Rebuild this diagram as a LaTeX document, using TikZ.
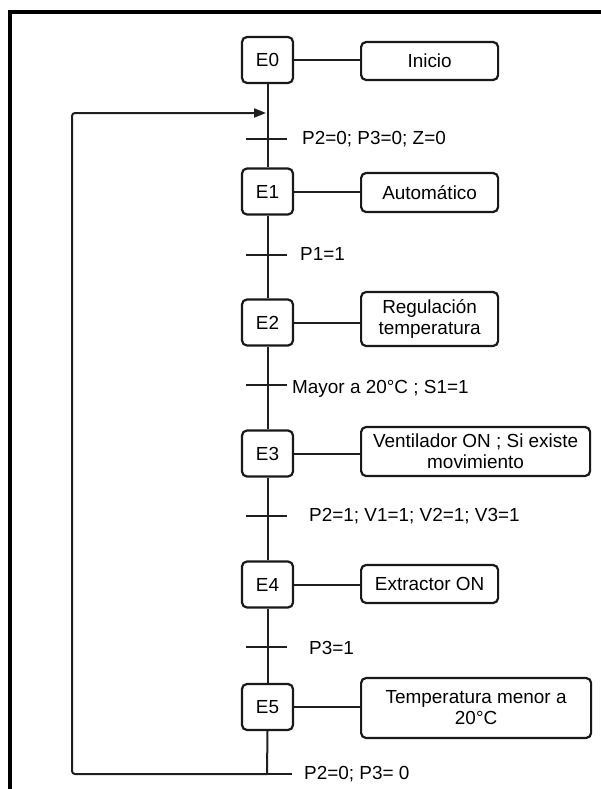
\documentclass[tikz,border=0pt]{standalone}
\usepackage{fontspec}
\setmainfont{Liberation Sans}
\usetikzlibrary{arrows.meta}
\begin{document}
\begin{tikzpicture}[x=1bp,y=-1bp,
  txt/.style={font=\fontsize{19}{21}\selectfont},
  line/.style={line width=2bp, draw=black!88},
  stepbox/.style={txt, draw=black!90, line width=2.2bp, rounded corners=5bp,
    minimum width=51bp, minimum height=46bp, inner sep=0pt},
  actbox/.style={txt, draw=black!90, line width=2.2bp, rounded corners=5bp,
    inner sep=0pt, align=center, anchor=west},
  bar/.style={line width=2.4bp, draw=black!88},
  cond/.style={txt, anchor=west, inner sep=0pt},
]
\useasboundingbox (0,0) rectangle (601,789);

% outer frame (top and left edges)
\draw[line width=4bp, black] (10,795) -- (10,12) -- (607,12);

% steps
\node[stepbox] (s0) at (267.5,60)    {E0};
\node[stepbox] (s1) at (267.5,191.5) {E1};
\node[stepbox] (s2) at (267.5,322.5) {E2};
\node[stepbox] (s3) at (267.5,453.5) {E3};
\node[stepbox] (s4) at (267.5,584.5) {E4};
\node[stepbox] (s5) at (267.5,707)   {E5};

% actions
\node[actbox, minimum width=137bp, minimum height=38bp] (a0) at (360,61)    {Inicio};
\node[actbox, minimum width=137bp, minimum height=39bp] (a1) at (360,192.5) {Automático};
\node[actbox, minimum width=137bp, minimum height=54bp] (a2) at (360,319)   {Regulación\\temperatura};
\node[actbox, minimum width=229bp, minimum height=49bp] (a3) at (360,451.5) {Ventilador ON ; Si existe\\movimiento};
\node[actbox, minimum width=137bp, minimum height=38bp] (a4) at (360,584)   {Extractor ON};
\node[actbox, minimum width=230bp, minimum height=60bp] (a5) at (360,708)   {Temperatura menor a\\20°C};

% step-to-action links
\foreach \i in {0,...,5}
  \draw[line] (s\i.east) -- (s\i.east -| a\i.west);

% transitions
\coordinate (t1) at (267,139);
\coordinate (t2) at (267,255);
\coordinate (t3) at (267,385);
\coordinate (t4) at (267,516);
\coordinate (t5) at (267,647);
\coordinate (t6) at (267,774);

% main sequence line
\draw[line] (s0.south) -- (s1.north);
\draw[line] (s1.south) -- (s2.north);
\draw[line] (s2.south) -- (s3.north);
\draw[line] (s3.south) -- (s4.north);
\draw[line] (s4.south) -- (s5.north);
\draw[line] (s5.south) -- (t6);

% transition bars
\foreach \t in {t1,t2,t3,t4,t5}
  \draw[bar] ([xshift=-21bp]\t) -- ([xshift=20bp]\t);
\draw[bar] ([xshift=-19bp]t6) -- ([xshift=25bp]t6);

% receptivities
\node[cond] (c1) at (302,139) {P2=0; P3=0; Z=0};
\node[cond] (c2) at (300,254) {P1=1};
\node[cond] (c3) at (292,389) {Mayor a 20°C ; S1=1};
\node[cond] (c4) at (309,516) {P2=1; V1=1; V2=1; V3=1};
\node[cond] (c5) at (309,648) {P3=1};
\node[cond] (c6) at (304,774) {P2=0; P3= 0};

% loop back to the initial step
\coordinate (rb)  at (72,774);
\coordinate (rt)  at (72,113);
\coordinate (rin) at (266,113);
\draw[line, rounded corners=3bp, -{Triangle[length=12bp,width=9bp]}]
  (t6) -- (rb) -- (rt) -- (rin);
\end{tikzpicture}
\end{document}
